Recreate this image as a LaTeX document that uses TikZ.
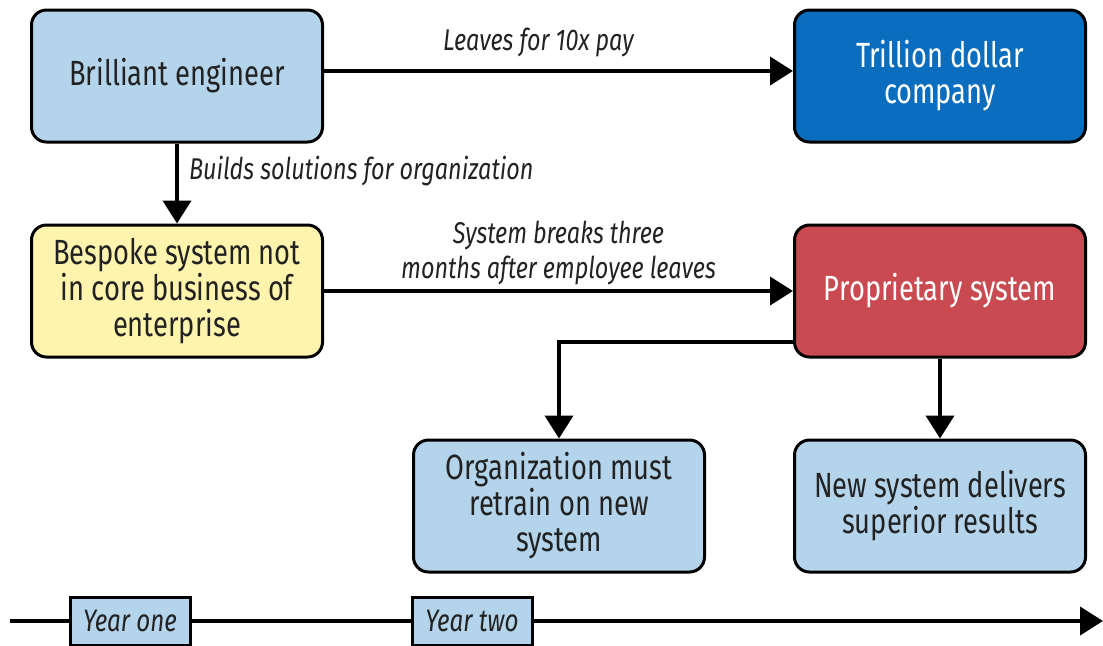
\documentclass[tikz,border=0pt]{standalone}
\usepackage{fontspec}
\setmainfont{Fira Sans}[FakeStretch=0.78]
\usepackage{tikz}
\usetikzlibrary{positioning,arrows.meta,calc}
\definecolor{paleblue}{HTML}{B3D4EA}
\definecolor{paleyellow}{HTML}{FFF4AE}
\definecolor{deepblue}{HTML}{0B6DBE}
\definecolor{brickred}{HTML}{C94A50}
\definecolor{inkgray}{HTML}{222222}
\tikzset{
  >={Triangle[length=11.5pt,width=14pt]},
  stepbox/.style={draw=black,rounded corners=7.5pt,line width=1.5pt,
    minimum width=145.5pt,minimum height=66pt,align=center,
    font=\fontsize{17.5}{18}\selectfont,text=inkgray,inner sep=3pt},
  lightbox/.style={stepbox,fill=paleblue},
  warnbox/.style={stepbox,fill=paleyellow},
  bigbox/.style={stepbox,fill=deepblue,text=white},
  badbox/.style={stepbox,fill=brickred,text=white},
  flow/.style={->,line width=2pt},
  flowlbl/.style={font=\fontsize{15}{17.5}\selectfont\itshape,text=inkgray,
    align=center,inner sep=1pt},
  yearbox/.style={draw=black,line width=1.5pt,fill=paleblue,
    minimum width=60pt,minimum height=24pt,inner sep=1pt,
    font=\fontsize{15.5}{17}\selectfont\itshape,text=inkgray},
}
\begin{document}
\begin{tikzpicture}[x=0.5pt,y=-0.5pt]
  \useasboundingbox (0,0) rectangle (1103,645);
  \node[lightbox] (eng) at (177,76) {Brilliant engineer};
  \node[bigbox] (tril) at (940,76) {Trillion dollar\\company};
  \node[warnbox] (besp) at (177,291) {Bespoke system not\\in core business of\\enterprise};
  \node[badbox] (prop) at (940,291) {Proprietary system};
  \node[lightbox] (org) at (559,506) {Organization must\\retrain on new\\system};
  \node[lightbox] (news) at (940,506) {New system delivers\\superior results};
  \draw[flow] ([yshift=2.5pt]eng.east) -- ([yshift=2.5pt]tril.west)
    node[flowlbl,midway,above=5pt,xshift=-10pt] {Leaves for 10x pay};
  \draw[flow] (eng) -- (besp)
    node[flowlbl,pos=0.34,right=4pt,anchor=west] {Builds solutions for organization};
  \draw[flow] (besp) -- (prop)
    node[flowlbl,midway,above=1pt] {System breaks three\\months after employee leaves};
  \draw[flow] ([yshift=8.5pt]prop.south west) -| (org.north);
  \draw[flow] (prop) -- (news);
  % timeline
  \coordinate (tlstart) at (10,621);
  \coordinate (tlend) at (1103,621);
  \node[yearbox] (yone) at (130,621) {Year one};
  \node[yearbox] (ytwo) at (472,621) {Year two};
  \draw[line width=2pt] (tlstart) -- (yone);
  \draw[line width=2pt] (yone) -- (ytwo);
  \draw[flow] (ytwo) -- (tlend);
\end{tikzpicture}
\end{document}
